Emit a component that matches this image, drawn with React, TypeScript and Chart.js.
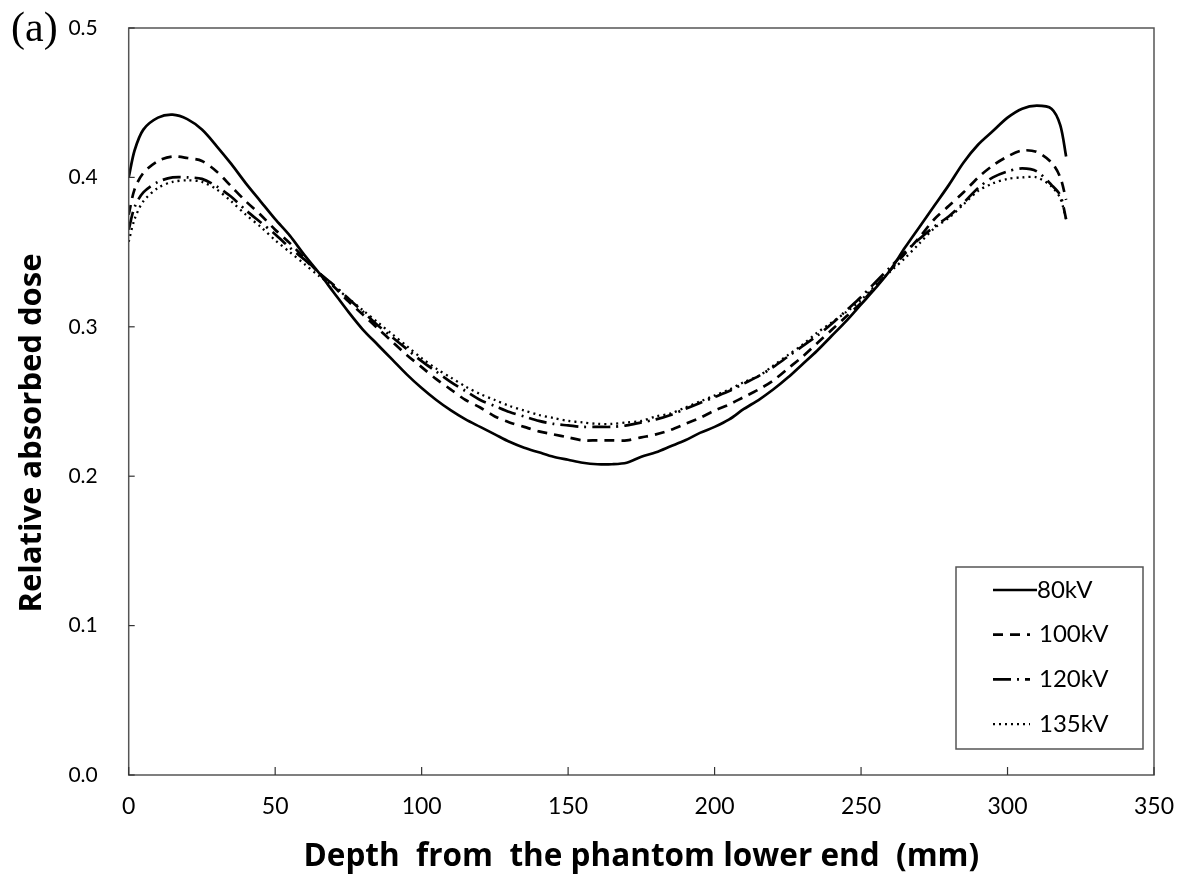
import React, { useEffect, useRef } from "react";
import { Chart, registerables } from "chart.js";

Chart.register(...registerables);

const depths = [0, 2, 5, 10, 15, 20, 25, 30, 35, 40, 45, 50, 55, 60, 65, 70, 75, 80, 85, 90, 95, 100, 105, 110, 115, 120, 125, 130, 135, 140, 145, 150, 155, 160, 165, 170, 175, 180, 185, 190, 195, 200, 205, 210, 215, 220, 225, 230, 235, 240, 245, 250, 255, 260, 265, 270, 275, 280, 285, 290, 295, 300, 305, 310, 315, 318, 320];

const kv80 = [0.400, 0.418, 0.432, 0.440, 0.442, 0.439, 0.432, 0.421, 0.409, 0.396, 0.384, 0.372, 0.361, 0.348, 0.336, 0.323, 0.310, 0.298, 0.288, 0.278, 0.268, 0.259, 0.251, 0.244, 0.238, 0.233, 0.228, 0.223, 0.219, 0.216, 0.213, 0.211, 0.209, 0.208, 0.208, 0.209, 0.213, 0.216, 0.220, 0.224, 0.229, 0.233, 0.238, 0.245, 0.251, 0.258, 0.266, 0.275, 0.284, 0.294, 0.304, 0.315, 0.326, 0.338, 0.353, 0.367, 0.381, 0.395, 0.410, 0.422, 0.431, 0.440, 0.446, 0.448, 0.446, 0.435, 0.414];

const kv100 = [0.375, 0.392, 0.403, 0.411, 0.414, 0.413, 0.411, 0.404, 0.394, 0.384, 0.375, 0.365, 0.356, 0.346, 0.336, 0.327, 0.317, 0.308, 0.299, 0.290, 0.281, 0.273, 0.265, 0.258, 0.251, 0.246, 0.240, 0.236, 0.233, 0.230, 0.228, 0.226, 0.224, 0.224, 0.224, 0.224, 0.226, 0.228, 0.231, 0.235, 0.239, 0.244, 0.248, 0.253, 0.258, 0.264, 0.272, 0.280, 0.289, 0.298, 0.307, 0.316, 0.327, 0.338, 0.349, 0.360, 0.372, 0.381, 0.390, 0.400, 0.408, 0.414, 0.418, 0.417, 0.410, 0.400, 0.385];

const kv120 = [0.365, 0.380, 0.390, 0.397, 0.400, 0.400, 0.399, 0.394, 0.387, 0.378, 0.370, 0.362, 0.353, 0.345, 0.336, 0.328, 0.319, 0.310, 0.301, 0.293, 0.285, 0.277, 0.270, 0.263, 0.257, 0.251, 0.247, 0.243, 0.240, 0.237, 0.235, 0.234, 0.233, 0.233, 0.233, 0.234, 0.236, 0.238, 0.241, 0.245, 0.249, 0.253, 0.257, 0.262, 0.267, 0.273, 0.280, 0.287, 0.294, 0.302, 0.311, 0.320, 0.330, 0.340, 0.350, 0.359, 0.367, 0.374, 0.383, 0.393, 0.400, 0.404, 0.406, 0.404, 0.395, 0.388, 0.372];

const kv135 = [0.357, 0.372, 0.384, 0.393, 0.397, 0.398, 0.397, 0.392, 0.384, 0.375, 0.367, 0.358, 0.350, 0.342, 0.334, 0.327, 0.319, 0.311, 0.303, 0.295, 0.287, 0.279, 0.272, 0.266, 0.260, 0.255, 0.251, 0.247, 0.244, 0.241, 0.239, 0.237, 0.236, 0.235, 0.235, 0.236, 0.237, 0.240, 0.242, 0.246, 0.250, 0.254, 0.258, 0.263, 0.267, 0.274, 0.281, 0.288, 0.296, 0.303, 0.310, 0.318, 0.328, 0.337, 0.346, 0.356, 0.366, 0.373, 0.382, 0.391, 0.396, 0.399, 0.400, 0.400, 0.394, 0.386, 0.372];

const seriesLabels = ["80kV", "100kV", "120kV", "135kV"];
const seriesValues = [kv80, kv100, kv120, kv135];
const seriesDashes = [[], [10, 7], [18, 6, 2, 6], [2, 4]];
const seriesWidths = [2.7, 2.7, 2.7, 2.3];

const xTitle = "Depth  from  the phantom lower end  (mm)";
const yTitle = "Relative absorbed dose";
const panelLabel = "(a)";

const TICK_FONT = "Lato, 'Open Sans', sans-serif";
const TITLE_FONT = "'Open Sans', Lato, sans-serif";
const FRAME = "#555555";

const extrasPlugin = {
  id: "extras",
  afterDraw(chart: any) {
    const ctx = chart.ctx as CanvasRenderingContext2D;
    const area = chart.chartArea;
    const xs = chart.scales.x;
    const ys = chart.scales.y;
    ctx.save();
    // frame
    ctx.strokeStyle = FRAME;
    ctx.lineWidth = 1.5;
    ctx.strokeRect(area.left, area.top, area.right - area.left, area.bottom - area.top);
    // inward ticks
    ctx.lineWidth = 1.2;
    ctx.strokeStyle = "#333";
    xs.ticks.forEach((t: any) => {
      const px = xs.getPixelForValue(t.value);
      ctx.beginPath();
      ctx.moveTo(px, area.bottom);
      ctx.lineTo(px, area.bottom - 8);
      ctx.stroke();
    });
    ys.ticks.forEach((t: any) => {
      const py = ys.getPixelForValue(t.value);
      ctx.beginPath();
      ctx.moveTo(area.left, py);
      ctx.lineTo(area.left + 6, py);
      ctx.stroke();
    });
    // y axis title
    ctx.save();
    ctx.translate(32, 433);
    ctx.rotate(-Math.PI / 2);
    ctx.font = `bold 31px ${TITLE_FONT}`;
    ctx.fillStyle = "#000";
    ctx.textAlign = "center";
    ctx.textBaseline = "middle";
    ctx.fillText(yTitle, 0, 0);
    ctx.restore();
    // legend
    const bx = 956, by = 567, bw = 187, bh = 182;
    ctx.fillStyle = "#fff";
    ctx.fillRect(bx, by, bw, bh);
    ctx.strokeStyle = FRAME;
    ctx.lineWidth = 1.5;
    ctx.strokeRect(bx, by, bw, bh);
    ctx.font = `24px ${TICK_FONT}`;
    ctx.textBaseline = "middle";
    ctx.textAlign = "left";
    chart.data.datasets.forEach((ds: any, i: number) => {
      const ly = 590 + i * 44.7;
      ctx.strokeStyle = "#000";
      ctx.lineWidth = ds.borderWidth;
      ctx.setLineDash(ds.borderDash || []);
      ctx.beginPath();
      ctx.moveTo(993, ly);
      ctx.lineTo(i === 0 ? 1037 : 1030, ly);
      ctx.stroke();
      ctx.setLineDash([]);
      ctx.fillStyle = "#000";
      ctx.fillText(ds.label, i === 0 ? 1037 : 1039, ly);
    });
    // panel label
    ctx.font = "42px 'Liberation Serif', 'DejaVu Serif', serif";
    ctx.textBaseline = "alphabetic";
    ctx.fillStyle = "#000";
    ctx.fillText(panelLabel, 11, 41);
    ctx.restore();
  },
};

export default function App() {
  const ref = useRef<HTMLCanvasElement | null>(null);
  useEffect(() => {
    if (!ref.current) return;
    const datasets = seriesLabels.map((label, i) => ({
      label,
      data: depths.map((d, j) => ({ x: d, y: seriesValues[i][j] })),
      borderColor: "#000",
      backgroundColor: "#000",
      borderWidth: seriesWidths[i],
      borderDash: seriesDashes[i],
      pointRadius: 0,
      tension: 0.3,
      fill: false,
    }));
    const chart = new Chart(ref.current, {
      type: "line",
      data: { datasets },
      plugins: [extrasPlugin],
      options: {
        animation: false,
        responsive: true,
        maintainAspectRatio: false,
        layout: { padding: { top: 28, right: 30, left: 0, bottom: 0 } },
        plugins: { legend: { display: false }, tooltip: { enabled: false } },
        scales: {
          x: {
            type: "linear",
            min: 0,
            max: 350,
            grid: { display: false, drawTicks: false },
            border: { display: false },
            afterFit: (s: any) => {
              s.height = 103;
              s.paddingLeft = 0;
              s.paddingRight = 0;
            },
            ticks: {
              stepSize: 50,
              padding: 18,
              color: "#000",
              font: { family: TICK_FONT, size: 23 },
              maxRotation: 0,
            },
            title: {
              display: true,
              text: xTitle,
              color: "#000",
              font: { family: TITLE_FONT, size: 31.5, weight: "bold" },
              padding: { top: 0, bottom: 2 },
            },
          },
          y: {
            type: "linear",
            min: 0,
            max: 0.5,
            grid: { display: false, drawTicks: false },
            border: { display: false },
            afterFit: (s: any) => {
              s.width = 128.7;
              s.paddingTop = 0;
              s.paddingBottom = 0;
            },
            ticks: {
              stepSize: 0.1,
              padding: 31,
              color: "#000",
              font: { family: TICK_FONT, size: 21 },
              callback: (v: any) => Number(v).toFixed(1),
            },
            title: { display: false },
          },
        },
      },
    });
    return () => chart.destroy();
  }, []);
  return (
    <div style={{ position: "fixed", left: 0, top: 0, width: 1184, height: 878, background: "#fff" }}>
      <canvas ref={ref} />
    </div>
  );
}
